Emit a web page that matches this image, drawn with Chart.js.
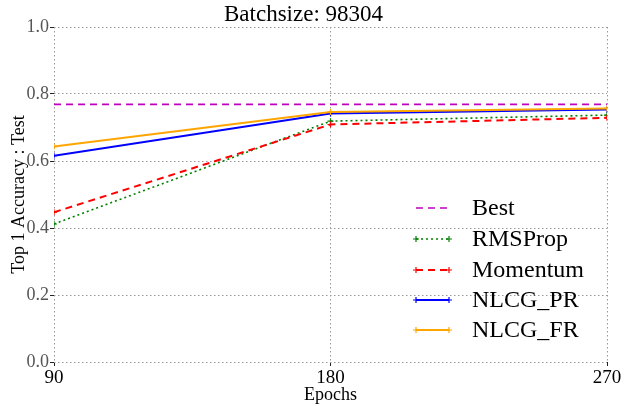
<!DOCTYPE html>
<html>
<head>
<meta charset="utf-8">
<script src="https://cdn.jsdelivr.net/npm/chart.js@4"></script>
<style>
html,body{margin:0;padding:0;background:#fff;}
#wrap{width:630px;height:406px;}
</style>
</head>
<body>
<div id="wrap"><canvas id="c" width="630" height="406"></canvas></div>
<script>
const epochs = [90, 180, 270];
const xTicks = [90, 180, 270];
const yTicks = [0.0, 0.2, 0.4, 0.6, 0.8, 1.0];
const best = [0.769, 0.769, 0.769];
const rmsprop = [0.412, 0.719, 0.737];
const momentum = [0.447, 0.709, 0.729];
const nlcgPR = [0.616, 0.742, 0.754];
const nlcgFR = [0.643, 0.746, 0.757];
const seriesNames = ['Best', 'RMSProp', 'Momentum', 'NLCG_PR', 'NLCG_FR'];
const chartTitle = 'Batchsize: 98304';
const xTitle = 'Epochs';
const yTitle = 'Top 1 Accuracy : Test';

const FONT = "'Liberation Serif', 'DejaVu Serif', serif";

function pts(arr){ return epochs.map((e,i)=>({x:e, y:arr[i]})); }

const styles = [
  {color:'#bf00bf', dash:[7,5], marker:false, width:1.6},
  {color:'#008000', dash:[2,3], marker:true, width:1.6},
  {color:'#ff0000', dash:[7,5], marker:true, width:2},
  {color:'#0000ff', dash:[], marker:true, width:2},
  {color:'#ffa500', dash:[], marker:true, width:2}
];
const allData = [best, rmsprop, momentum, nlcgPR, nlcgFR];

const datasets = allData.map((d,i)=>({
  label: seriesNames[i],
  data: pts(d),
  borderColor: styles[i].color,
  backgroundColor: styles[i].color,
  borderWidth: styles[i].width,
  borderDash: styles[i].dash,
  pointStyle: styles[i].marker ? 'cross' : false,
  pointRadius: styles[i].marker ? 3 : 0,
  pointBorderWidth: 1.2,
  fill: false,
  tension: 0,
  order: 5 - i
}));

const legendPlugin = {
  id: 'customLegend',
  afterDraw(chart){
    const ctx = chart.ctx;
    ctx.save();
    const x0 = 416, x1 = 449, tx = 472;
    const ys = [208, 239, 270, 300, 330];
    ctx.font = "24px " + FONT;
    ctx.textBaseline = 'middle';
    ctx.textAlign = 'left';
    seriesNames.forEach((n,i)=>{
      const s = styles[i];
      const y = ys[i];
      ctx.strokeStyle = s.color;
      ctx.lineWidth = s.width;
      ctx.setLineDash(s.dash);
      ctx.beginPath(); ctx.moveTo(x0,y); ctx.lineTo(x1,y); ctx.stroke();
      ctx.setLineDash([]);
      if (s.marker){
        ctx.lineWidth = 1.2;
        [x0,x1].forEach(px=>{
          ctx.beginPath();
          ctx.moveTo(px-3,y); ctx.lineTo(px+3,y);
          ctx.moveTo(px,y-3); ctx.lineTo(px,y+3);
          ctx.stroke();
        });
      }
      ctx.fillStyle = '#000';
      ctx.fillText(n, tx, y+1);
    });
    ctx.restore();
  }
};

new Chart(document.getElementById('c'), {
  type: 'line',
  data: { datasets },
  plugins: [legendPlugin],
  options: {
    responsive: false,
    animation: false,
    layout: { padding: { left: 0, right: 23, top: 0, bottom: 0 } },
    plugins: {
      legend: { display: false },
      tooltip: { enabled: false },
      title: {
        display: true,
        text: chartTitle,
        color: '#000',
        font: { family: FONT, size: 23, weight: 'normal', lineHeight: 1.0 },
        padding: { top: 3, bottom: 1 }
      }
    },
    scales: {
      x: {
        type: 'linear',
        min: 90, max: 270,
        afterBuildTicks(s){ s.ticks = xTicks.map(v=>({value:v})); },
        afterFit(s){ s.height = 44; },
        grid: { color: '#999', lineWidth: 1, tickLength: 4, drawTicks: true, tickColor: '#222', tickBorderDash: [] },
        border: { display: false, dash: [1.5, 2.5] },
        ticks: { color: '#000', font: { family: FONT, size: 19 }, padding: 1, maxRotation: 0 },
        title: { display: true, text: xTitle, color: '#000', font: { family: FONT, size: 18 }, padding: { top: -4, bottom: 0 } }
      },
      y: {
        min: 0, max: 1,
        afterBuildTicks(s){ s.ticks = yTicks.map(v=>({value:v})); },
        afterFit(s){ s.width = 54; },
        grid: { color: '#999', lineWidth: 1, tickLength: 4, drawTicks: true, tickColor: '#222', tickBorderDash: [] },
        border: { display: false, dash: [1.5, 2.5] },
        ticks: { color: '#555', font: { family: FONT, size: 18 }, padding: 1, callback: v => v.toFixed(1) },
        title: { display: true, text: yTitle, color: '#000', font: { family: FONT, size: 18 }, padding: { top: 8, bottom: 0 } }
      }
    }
  }
});
</script>
</body>
</html>
